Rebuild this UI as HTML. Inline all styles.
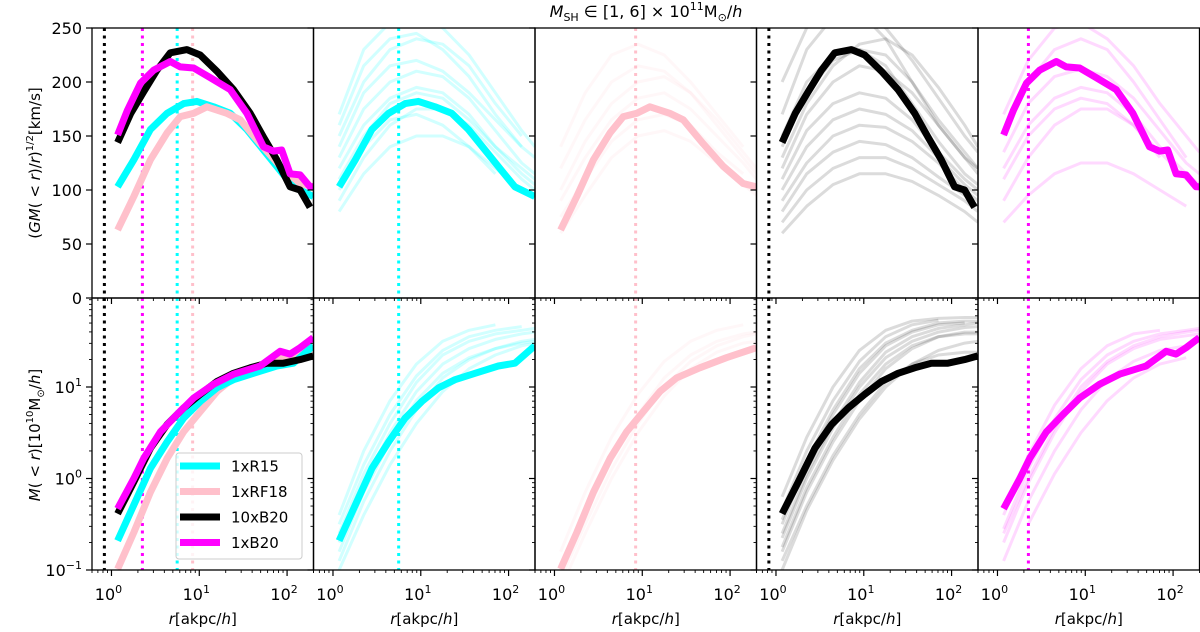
<!DOCTYPE html>
<html><head><meta charset="utf-8"><style>
html,body{margin:0;padding:0;background:#fff;}
svg{display:block;font-family:"DejaVu Sans","Liberation Sans",sans-serif;}
</style></head><body>
<svg id="chart" width="1200" height="632" viewBox="0 0 1200 632" xmlns="http://www.w3.org/2000/svg">
<text x="646" y="17" font-size="16" text-anchor="middle"><tspan font-style="italic">M</tspan><tspan font-size="11" dy="4">SH</tspan><tspan dy="-4"> ∈ [1, 6] × 10</tspan><tspan font-size="11" dy="-7">11</tspan><tspan dy="7">M</tspan><tspan font-size="11" dy="4">⊙</tspan><tspan dy="-4">/</tspan><tspan font-style="italic">h</tspan></text>
<text transform="translate(40,163) rotate(-90)" font-size="15" text-anchor="middle">(<tspan font-style="italic">GM</tspan>( &lt; <tspan font-style="italic">r</tspan>)/<tspan font-style="italic">r</tspan>)<tspan font-size="10" dy="-7">1/2</tspan><tspan dy="7">[km/s]</tspan></text>
<text transform="translate(40,435) rotate(-90)" font-size="15" text-anchor="middle"><tspan font-style="italic">M</tspan>( &lt; <tspan font-style="italic">r</tspan>)[10<tspan font-size="10" dy="-7">10</tspan><tspan dy="7">M</tspan><tspan font-size="10" dy="4">⊙</tspan><tspan dy="-4">/</tspan><tspan font-style="italic">h</tspan>]</text>
<g id="plots"></g>
</svg>
<script>
// ---- data ----
const colors = ['#00ffff','#ffc0cb','#000000','#ff00ff'];
const seriesNames = ['1xR15','1xRF18','10xB20','1xB20'];
const rMarkers = [5.6, 8.4, 0.83, 2.25];

const vBlackX = [0.07,0.22,0.367,0.519,0.67,0.86,1.011,1.201,1.39,1.58,1.731,1.883,2.034,2.148,2.261];
const vBlackY = [144,171,191,211,227,230,225,210,193,171,149,128,103,100,84];
const vMagX = [0.07,0.182,0.33,0.481,0.67,0.784,0.936,1.125,1.352,1.542,1.731,1.845,1.939,2.034,2.148,2.261,2.3];
const vMagY = [151,174,199,211,219,214,213,204,193,171,140,136,137,115,114,103,103];
const vCyanX = [0.07,0.254,0.443,0.633,0.822,0.973,1.163,1.352,1.542,1.731,1.92,2.072,2.299];
const vCyanY = [103,128,156,171,180,182,177,171,156,137,118,103,94];
const vPinkX = [0.07,0.254,0.443,0.633,0.784,0.936,1.087,1.314,1.466,1.693,1.92,2.148,2.299];
const vPinkY = [63,94,128,153,168,171,177,171,165,143,122,106,103];

const mBlackX = [0.07,0.254,0.443,0.633,0.822,1.011,1.201,1.39,1.58,1.769,1.958,2.148,2.299];
const mBlackY = [-0.385,-0.037,0.33,0.59,0.77,0.92,1.06,1.15,1.21,1.26,1.26,1.30,1.34];
const mMagX = [0.07,0.254,0.367,0.557,0.746,0.936,1.163,1.39,1.693,1.92,2.034,2.148,2.299];
const mMagY = [-0.33,0.0,0.22,0.51,0.70,0.88,1.03,1.14,1.23,1.39,1.36,1.43,1.54];
const mCyanX = [0.07,0.254,0.443,0.633,0.822,1.011,1.201,1.39,1.617,1.883,2.072,2.299];
const mCyanY = [-0.68,-0.29,0.11,0.40,0.66,0.84,0.99,1.08,1.15,1.23,1.26,1.45];
const mPinkX = [0.07,0.254,0.443,0.633,0.822,1.011,1.201,1.39,1.655,1.958,2.299];
const mPinkY = [-0.99,-0.59,-0.15,0.22,0.51,0.73,0.95,1.10,1.21,1.32,1.43];

const bgX = [0.07,0.35,0.65,0.95,1.25,1.55,1.85,2.15,2.3];
const bgVCyan = [[150,200,230,240,235,215,180,150,null],[120,160,185,195,190,170,140,115,105],[90,130,160,175,175,160,135,110,100],[170,230,255,260,250,225,190,155,140],[100,140,165,170,160,140,115,null,null],[130,175,200,210,205,185,155,125,115],[80,115,140,150,150,140,120,100,95],[140,190,215,220,210,190,165,140,130],[110,150,180,190,185,165,140,120,110],[160,215,240,245,230,205,170,140,null]];
const bgVPink = [[90,130,165,185,190,175,150,125,110],[60,95,130,150,155,145,125,105,95],[120,165,200,215,210,190,160,130,115],[75,110,145,165,170,160,135,115,null],[100,145,180,200,205,190,165,135,120],[140,190,225,235,225,200,170,140,null]];
const bgVBlack = [[200,250,270,265,240,200,160,130,115],[150,200,225,230,215,180,145,115,105],[100,140,165,175,170,155,130,105,95],[70,100,120,130,130,120,105,90,80],[120,170,200,215,210,190,160,130,120],[170,230,260,265,250,220,185,150,135],[60,85,105,115,115,108,95,80,70],[90,125,150,160,158,145,125,100,90],[130,180,215,235,240,225,195,160,140],[110,155,180,190,185,165,135,110,100],[80,115,135,145,142,130,112,95,85],[140,190,220,230,225,200,165,135,120]];
const bgVMag = [[150,200,230,240,230,200,165,130,null],[120,160,185,195,190,170,140,115,105],[90,130,160,175,175,160,135,110,100],[70,95,115,125,125,115,100,85,null],[170,220,250,255,240,215,180,150,135],[110,150,175,185,180,160,130,null,null],[135,180,205,212,205,185,155,125,115]];
const bgMCyan = [[-0.4,0.3,0.85,1.25,1.5,1.62,1.68,null,null],[-0.7,-0.05,0.5,0.95,1.25,1.42,1.52,1.58,1.6],[-0.9,-0.25,0.3,0.75,1.1,1.3,1.42,1.5,1.52],[-0.5,0.15,0.7,1.12,1.4,1.55,1.62,1.66,null],[-0.8,-0.15,0.4,0.85,1.15,1.32,1.42,1.48,1.5],[-1.0,-0.4,0.15,0.6,0.95,1.2,1.35,1.45,1.48],[-0.6,0.05,0.6,1.05,1.35,1.5,1.58,1.62,1.64]];
const bgMPink = [[-1.0,-0.4,0.2,0.7,1.1,1.35,1.5,1.58,1.6],[-1.2,-0.6,0.0,0.5,0.9,1.2,1.38,1.48,1.5],[-0.8,-0.15,0.45,0.92,1.28,1.5,1.62,1.68,null],[-1.1,-0.5,0.1,0.6,1.0,1.28,1.45,1.55,1.58]];
const bgMBlack = [[-0.2,0.45,1.0,1.4,1.62,1.72,1.75,1.76,1.76],[-0.5,0.15,0.7,1.15,1.45,1.6,1.68,1.7,null],[-0.8,-0.15,0.4,0.85,1.2,1.42,1.55,1.6,1.6],[-1.0,-0.35,0.2,0.65,1.0,1.25,1.4,1.48,1.5],[-0.35,0.3,0.85,1.28,1.55,1.68,1.73,null,null],[-0.65,0.0,0.55,1.0,1.32,1.5,1.6,1.65,1.66],[-0.9,-0.3,0.25,0.7,1.05,1.25,1.35,1.38,1.38],[-0.6,0.05,0.6,1.05,1.38,1.55,1.64,1.68,1.7],[-0.75,-0.1,0.45,0.92,1.25,1.45,1.55,1.58,1.58],[-0.45,0.2,0.75,1.2,1.48,1.62,1.7,1.72,1.72]];
const bgMMag = [[-0.4,0.25,0.8,1.2,1.45,1.58,1.62,null,null],[-0.7,-0.05,0.5,0.95,1.25,1.42,1.52,1.56,1.58],[null,-0.5,0.05,0.5,0.85,1.1,1.25,1.32,null],[-0.55,0.1,0.65,1.08,1.35,1.5,1.58,1.62,1.64],[-0.9,-0.25,0.3,0.75,1.08,1.28,1.4,1.45,null],[-0.6,0.0,0.55,1.0,1.28,1.45,1.55,1.6,1.62]];

const vTicks = [0,50,100,150,200,250];
const mTickExps = [-1,0,1];
const xTickExps = [0,1,2];

// ---- layout ----
const NS='http://www.w3.org/2000/svg';
const P0=92, PW=221.5, TOP=28, MID=298, BOT=570;
const XMINLOG=Math.log10(0.6), XDEC=87.8;
const xS=(i,lr)=>P0+i*PW+(lr-XMINLOG)*XDEC;
const yV=v=>MID-v*(MID-TOP)/250;
const yM=lm=>BOT-(lm+1)*91.5;
const root=document.getElementById('plots');
function mk(tag,attrs,parent){const e=document.createElementNS(NS,tag);for(const k in attrs)e.setAttribute(k,attrs[k]);(parent||root).appendChild(e);return e;}

const defs=mk('defs',{});
for(let i=0;i<5;i++){
  const cp=mk('clipPath',{id:'cpt'+i},defs);mk('rect',{x:P0+i*PW,y:TOP,width:PW,height:MID-TOP},cp);
  const cb=mk('clipPath',{id:'cpb'+i},defs);mk('rect',{x:P0+i*PW,y:MID,width:PW,height:BOT-MID},cb);
}
function pathFrom(i,xs,ys,yf){let d='',pen=false;for(let k=0;k<xs.length;k++){if(ys[k]==null){pen=false;continue;}d+=(pen?'L':'M')+xS(i,xs[k]).toFixed(1)+','+yf(ys[k]).toFixed(1);pen=true;}return d;}
function line(g,i,xs,ys,yf,color,w,op,name){
  const p=mk('path',{d:pathFrom(i,xs,ys,yf),fill:'none',stroke:color,'stroke-width':w,'stroke-opacity':op,'stroke-linejoin':'round'},g);
  
  
}
function vmark(g,i,r,color,y0,y1){
  const l=mk('line',{x1:xS(i,Math.log10(r)),x2:xS(i,Math.log10(r)),y1:y0,y2:y1,stroke:color,'stroke-width':3,'stroke-dasharray':'3,4.5'},g);
  
  
}
const mainV=[[vCyanX,vCyanY],[vPinkX,vPinkY],[vBlackX,vBlackY],[vMagX,vMagY]];
const mainM=[[mCyanX,mCyanY],[mPinkX,mPinkY],[mBlackX,mBlackY],[mMagX,mMagY]];
const bgV=[bgVCyan,bgVPink,bgVBlack,bgVMag];
const bgM=[bgMCyan,bgMPink,bgMBlack,bgMMag];
const bgOp=[0.18,0.13,0.14,0.15];

for(let i=0;i<5;i++){
  const gt=mk('g',{'clip-path':'url(#cpt'+i+')'});
  
  
  const gb=mk('g',{'clip-path':'url(#cpb'+i+')'});
  
  
  if(i===0){
    [2,3,0,1].forEach(s=>{vmark(gt,0,rMarkers[s],colors[s],TOP,MID);vmark(gb,0,rMarkers[s],colors[s],MID,BOT);});
    [0,1,2,3].forEach(s=>{line(gt,0,mainV[s][0],mainV[s][1],yV,colors[s],7,1,'velocity-'+seriesNames[s]);});
    [1,0,2,3].forEach(s=>{line(gb,0,mainM[s][0],mainM[s][1],yM,colors[s],7,1,'mass-'+seriesNames[s]);});
  } else {
    const s=i-1;
    bgV[s].forEach(arr=>line(gt,i,bgX,arr,yV,colors[s],3,bgOp[s],'halo-velocity-'+seriesNames[s]));
    bgM[s].forEach(arr=>line(gb,i,bgX,arr,yM,colors[s],3,bgOp[s],'halo-mass-'+seriesNames[s]));
    vmark(gt,i,rMarkers[s],colors[s],TOP,MID);vmark(gb,i,rMarkers[s],colors[s],MID,BOT);
    line(gt,i,mainV[s][0],mainV[s][1],yV,colors[s],7,1,'velocity-'+seriesNames[s]);
    line(gb,i,mainM[s][0],mainM[s][1],yM,colors[s],7,1,'mass-'+seriesNames[s]);
  }
  mk('rect',{x:P0+i*PW,y:TOP,width:PW,height:MID-TOP,fill:'none',stroke:'#000','stroke-width':1.3});
  mk('rect',{x:P0+i*PW,y:MID,width:PW,height:BOT-MID,fill:'none',stroke:'#000','stroke-width':1.3});
  [MID,BOT].forEach(yb=>{
    for(let e=-1;e<=2;e++)for(let m=1;m<10;m++){
      const lr=e+Math.log10(m);const x=xS(i,lr);
      if(x<P0+i*PW-0.5||x>P0+(i+1)*PW+0.5)continue;
      mk('line',{x1:x,x2:x,y1:yb,y2:yb+(m===1?6:3),stroke:'#000','stroke-width':m===1?1.2:0.9});
    }
  });
  xTickExps.forEach(e=>{
    const t=mk('text',{x:xS(i,e)-3,y:600,'font-size':16,'text-anchor':'middle'});
    
    
    t.innerHTML='10<tspan font-size="11" dy="-7">'+e+'</tspan>';
  });
  const xl=mk('text',{x:P0+i*PW+PW/2,y:624,'font-size':15,'text-anchor':'middle'});
  
  
  xl.innerHTML='<tspan font-style="italic">r</tspan>[a<tspan>kpc</tspan>/<tspan font-style="italic">h</tspan>]';
  const xl0=P0+i*PW;
  vTicks.forEach(v=>mk('line',{x1:xl0-6,x2:xl0,y1:yV(v),y2:yV(v),stroke:'#000','stroke-width':1.2}));
  for(let e=-1;e<=1;e++)for(let m=1;m<10;m++){
    const y=yM(e+Math.log10(m));if(y<MID-0.5)continue;
    mk('line',{x1:xl0-(m===1?6:3),x2:xl0,y1:y,y2:y,stroke:'#000','stroke-width':m===1?1.2:0.9});
  }
}
vTicks.forEach(v=>{const t=mk('text',{x:82,y:yV(v)+6,'font-size':16,'text-anchor':'end'});t.textContent=v;
  
  });
mTickExps.forEach(e=>{const t=mk('text',{x:82,y:yM(e)+6,'font-size':16,'text-anchor':'end'});
  
  
  t.innerHTML='10<tspan font-size="11" dy="-7">'+(e<0?'−1':e)+'</tspan>';});

const lg=mk('g',{});


mk('rect',{x:176,y:453,width:126,height:106,rx:3,fill:'#fff','fill-opacity':0.8,stroke:'#ccc','stroke-width':1},lg);
seriesNames.forEach((n,k)=>{
  const y=466+k*25.5;
  const e=mk('g',{},lg);
  
  
  mk('line',{x1:180,x2:220,y1:y,y2:y,stroke:colors[k],'stroke-width':7},e);
  const t=mk('text',{x:231,y:y+5.5,'font-size':15},e);t.textContent=n;
});
</script>
</body></html>
